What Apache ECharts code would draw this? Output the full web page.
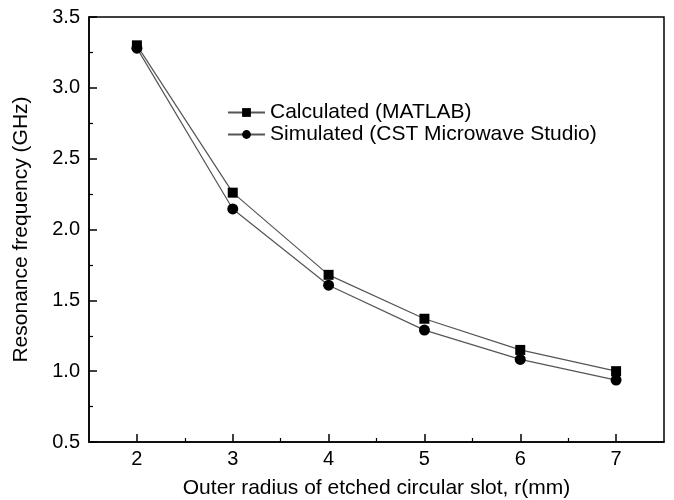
<!DOCTYPE html>
<html>
<head>
  <meta charset="utf-8">
  <title>Resonance frequency vs outer radius</title>
  <script src="https://cdn.jsdelivr.net/npm/echarts@6/dist/echarts.min.js"></script>
  <style>
    html, body { margin: 0; padding: 0; background: #fff; }
    #main { width: 674px; height: 500px; }
  </style>
</head>
<body>
  <div id="main"></div>
  <script>
  // data
  var radius = [2, 3, 4, 5, 6, 7];
  var calculated = [3.30, 2.26, 1.68, 1.37, 1.15, 1.00];
  var simulated = [3.28, 2.145, 1.607, 1.29, 1.083, 0.937];
  var xTicks = [2, 3, 4, 5, 6, 7];
  var xMinorTicks = [2.5, 3.5, 4.5, 5.5, 6.5];

  var font = 'Liberation Sans, Arial, sans-serif';

  function pairs(ys) {
    return radius.map(function (x, i) { return [x, ys[i]]; });
  }

  var myChart = echarts.init(document.getElementById('main'));
  myChart.setOption({
    animation: false,
    backgroundColor: '#fff',
    textStyle: { fontFamily: font },
    grid: {
      left: 89, right: 10, top: 17, bottom: 58,
      outerBoundsMode: 'none',
      show: true, borderColor: '#000', borderWidth: 1.5, backgroundColor: 'transparent'
    },
    legend: {
      left: 222, top: 97,
      orient: 'vertical',
      itemWidth: 37, itemHeight: 11, itemGap: 1,
      textStyle: { fontSize: 21, color: '#000', fontFamily: font },
      data: ['Calculated (MATLAB)', 'Simulated (CST Microwave Studio)']
    },
    xAxis: [{
      type: 'value', min: 1.5, max: 7.5,
      name: 'Outer radius of etched circular slot, r(mm)',
      nameLocation: 'middle', nameGap: 36,
      nameTextStyle: { fontSize: 21, color: '#000', fontFamily: font },
      splitLine: { show: false },
      axisLine: { onZero: false, lineStyle: { color: '#000', width: 1.5 } },
      axisTick: { inside: true, length: 8, customValues: xTicks, lineStyle: { color: '#000', width: 1.5 } },
      axisLabel: { customValues: xTicks, margin: 7, fontSize: 20, color: '#000', fontFamily: font }
    }, {
      type: 'value', min: 1.5, max: 7.5, position: 'bottom',
      splitLine: { show: false },
      axisLine: { show: false },
      axisTick: { inside: true, length: 4, customValues: xMinorTicks, lineStyle: { color: '#000', width: 1.2 } },
      axisLabel: { show: false }
    }],
    yAxis: {
      type: 'value', min: 0.5, max: 3.5, interval: 0.5,
      name: 'Resonance frequency (GHz)',
      nameLocation: 'middle', nameGap: 57,
      nameTextStyle: { fontSize: 21, color: '#000', fontFamily: font },
      splitLine: { show: false },
      axisLine: { onZero: false, lineStyle: { color: '#000', width: 1.5 } },
      axisTick: { inside: true, length: 8, lineStyle: { color: '#000', width: 1.5 } },
      minorTick: { show: true, splitNumber: 2, length: 4, lineStyle: { color: '#000', width: 1.2 } },
      axisLabel: {
        margin: 9, fontSize: 20, color: '#000', fontFamily: font,
        formatter: function (v) { return v.toFixed(1); }
      }
    },
    series: [{
      name: 'Calculated (MATLAB)',
      type: 'line',
      xAxisIndex: 0,
      data: pairs(calculated),
      symbol: 'rect', symbolSize: 10,
      itemStyle: { color: '#000' },
      lineStyle: { color: '#555', width: 1.2 }
    }, {
      name: 'Simulated (CST Microwave Studio)',
      type: 'line',
      xAxisIndex: 0,
      data: pairs(simulated),
      symbol: 'circle', symbolSize: 11,
      itemStyle: { color: '#000' },
      lineStyle: { color: '#555', width: 1.2 }
    }]
  });
  </script>
</body>
</html>
